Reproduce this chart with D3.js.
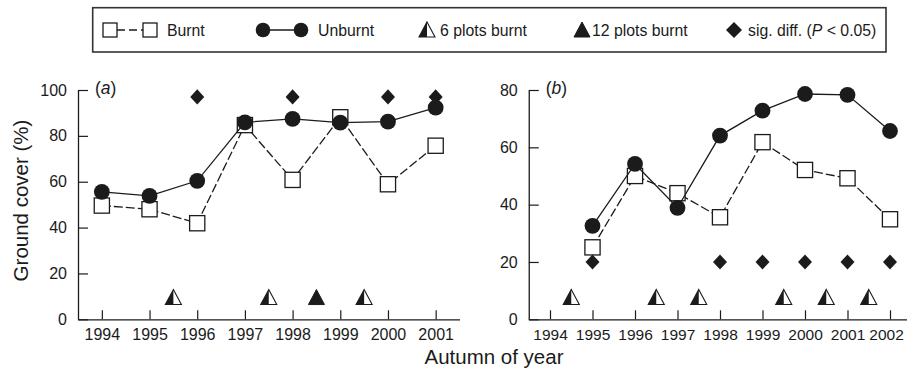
<!DOCTYPE html>
<html><head><meta charset="utf-8">
<script src="https://cdn.jsdelivr.net/npm/d3@7/dist/d3.min.js"></script>
<style>
html,body{margin:0;padding:0;background:#fff;}
svg{display:block;font-family:"Liberation Sans",Arial,Helvetica,sans-serif;}
</style></head>
<body><svg id="c" width="907" height="375"></svg>
<script>
// ---- data ----
const yearsA = [1994,1995,1996,1997,1998,1999,2000,2001];
const burntA = [49.6,48.0,41.9,84.7,60.8,88.1,58.9,75.7];
const unburntA = [55.6,53.8,60.4,85.9,87.4,85.8,86.2,92.3];
const sigYearsA = [1996,1998,2000,2001];
const sigLevelA = 97;
const burn6A = [1995.5,1997.5,1999.5];
const burn12A = [1998.5];
const triLevelA = 9.7;
const yTicksA = [0,20,40,60,80,100];
const xTicksA = [1994,1995,1996,1997,1998,1999,2000,2001];

const yearsB = [1995,1996,1997,1998,1999,2000,2001,2002];
const burntB = [25.1,50.0,44.0,35.6,61.8,52.1,49.2,34.9];
const unburntB = [32.6,54.2,38.9,64.1,72.8,78.6,78.3,65.7];
const sigYearsB = [1995,1998,1999,2000,2001,2002];
const sigLevelB = 20;
const burn6B = [1994.5,1996.5,1997.5,1999.5,2000.5,2001.5];
const burn12B = [];
const triLevelB = 7.8;
const yTicksB = [0,20,40,60,80];
const xTicksB = [1994,1995,1996,1997,1998,1999,2000,2001,2002];

const legendLabels = ["Burnt","Unburnt","6 plots burnt","12 plots burnt"];
const yTitle = "Ground cover (%)";
const xTitle = "Autumn of year";

// ---- drawing ----
const svg = d3.select("#c");
const INK = "#1b1b1b";
const SW = 1.3;

function triPath(cx, cy){
  return `M${cx},${cy-7.5}L${cx+8},${cy+7.5}L${cx-8},${cy+7.5}Z`;
}
function halfTri(g, cx, cy){
  g.append("path").attr("d", triPath(cx,cy)).attr("fill","#fff").attr("stroke",INK).attr("stroke-width",1.1).attr("stroke-linejoin","miter");
  g.append("path").attr("d", `M${cx},${cy-7.5}L${cx},${cy+7.5}L${cx-8},${cy+7.5}Z`).attr("fill",INK);
}
function fullTri(g, cx, cy){
  g.append("path").attr("d", triPath(cx,cy)).attr("fill",INK).attr("stroke",INK).attr("stroke-width",1);
}
function diamond(g, cx, cy, w, h){
  g.append("path").attr("d", `M${cx},${cy-h}L${cx+w},${cy}L${cx},${cy+h}L${cx-w},${cy}Z`).attr("fill",INK);
}

function panel(opt){
  const g = svg.append("g");
  const x = d3.scaleLinear().domain(opt.xDom).range(opt.xRange);
  const y = d3.scaleLinear().domain([0, opt.yMax]).range([319.3, 90]);

  const xa = g.append("g").attr("transform","translate(0,319.3)")
    .call(d3.axisBottom(x).tickValues(opt.xTicks).tickFormat(d3.format("d")).tickSizeInner(-9).tickSizeOuter(0).tickPadding(9.5));
  const ya = g.append("g").attr("transform",`translate(${opt.xRange[0]},0)`)
    .call(d3.axisLeft(y).tickValues(opt.yTicks).tickSizeInner(-10).tickSizeOuter(0).tickPadding(11));
  [xa, ya].forEach(a=>{
    a.selectAll("path.domain").attr("stroke",INK).attr("stroke-width",1.3);
    a.selectAll(".tick line").attr("stroke",INK).attr("stroke-width",1.2);
    a.selectAll(".tick text").attr("fill",INK).style("font-size","16px").style("font-family","'Liberation Sans',Arial,sans-serif");
  });
  if (opt.xFont) xa.selectAll(".tick text").style("font-size", opt.xFont);
  if (opt.lastShift) {
    xa.selectAll(".tick text").filter(d=>d===opt.xTicks[opt.xTicks.length-1]).attr("x", opt.lastShift);
  }

  // panel label
  const lbl = g.append("text").attr("x", opt.xRange[0]+17).attr("y", 94)
    .style("font-size","17.5px").attr("fill",INK);
  lbl.append("tspan").text("(");
  lbl.append("tspan").style("font-style","italic").text(opt.label);
  lbl.append("tspan").text(")");

  // triangles
  opt.burn6.forEach(v=>halfTri(g, x(v), y(opt.triLevel)));
  opt.burn12.forEach(v=>fullTri(g, x(v), y(opt.triLevel)));

  // burnt series
  const lineB = d3.line().x((d,i)=>x(opt.years[i])).y(d=>y(d));
  g.append("path").datum(opt.burnt).attr("d", lineB).attr("fill","none")
    .attr("stroke",INK).attr("stroke-width",SW).attr("stroke-dasharray","9,3");
  g.selectAll("rect.bsq").data(opt.burnt).enter().append("rect").attr("class","bsq")
    .attr("x",(d,i)=>x(opt.years[i])-7.6).attr("y",d=>y(d)-7.6)
    .attr("width",15.2).attr("height",15.2).attr("fill","#fff").attr("stroke",INK).attr("stroke-width",SW);

  // unburnt series
  g.append("path").datum(opt.unburnt).attr("d", lineB).attr("fill","none")
    .attr("stroke",INK).attr("stroke-width",SW);
  g.selectAll("circle.uc").data(opt.unburnt).enter().append("circle").attr("class","uc")
    .attr("cx",(d,i)=>x(opt.years[i])).attr("cy",d=>y(d)).attr("r",7.9).attr("fill",INK);

  // significance diamonds
  opt.sig.forEach(v=>diamond(g, x(v), y(opt.sigLevel), 7, 7.6));
}

panel({xDom:[1993.5,2001.5], xRange:[78,459.5], yMax:100, xTicks:xTicksA, yTicks:yTicksA,
  years:yearsA, burnt:burntA, unburnt:unburntA, sig:sigYearsA, sigLevel:sigLevelA,
  burn6:burn6A, burn12:burn12A, triLevel:triLevelA, label:"a"});
panel({xDom:[1993.5,2002.5], xRange:[528.75,911.25], yMax:80, xTicks:xTicksB, yTicks:yTicksB,
  years:yearsB, burnt:burntB, unburnt:unburntB, sig:sigYearsB, sigLevel:sigLevelB,
  burn6:burn6B, burn12:burn12B, triLevel:triLevelB, label:"b", lastShift:-4, xFont:"15.5px"});

// axis titles
svg.append("text").attr("transform","translate(28,200.5) rotate(-90)").attr("text-anchor","middle")
  .style("font-size","20.5px").attr("fill",INK).text(yTitle);
svg.append("text").attr("x",494).attr("y",364).attr("text-anchor","middle")
  .style("font-size","20.5px").attr("fill",INK).text(xTitle);

// legend
const lg = svg.append("g");
lg.append("rect").attr("x",92.7).attr("y",7.7).attr("width",793.3).attr("height",44.3)
  .attr("fill","#fff").attr("stroke","#333").attr("stroke-width",1.6);
const ly = 30;
const fs = "15.8px";
// burnt
lg.append("line").attr("x1",117).attr("x2",143).attr("y1",ly).attr("y2",ly).attr("stroke",INK).attr("stroke-width",SW).attr("stroke-dasharray","8,4");
[110,150].forEach(cx=>lg.append("rect").attr("x",cx-7).attr("y",ly-7).attr("width",14).attr("height",14).attr("fill","#fff").attr("stroke",INK).attr("stroke-width",SW));
lg.append("text").attr("x",167).attr("y",ly+5.5).style("font-size",fs).attr("fill",INK).text(legendLabels[0]);
// unburnt
lg.append("line").attr("x1",263).attr("x2",301).attr("y1",ly).attr("y2",ly).attr("stroke",INK).attr("stroke-width",SW);
[263,301].forEach(cx=>lg.append("circle").attr("cx",cx).attr("cy",ly).attr("r",7.3).attr("fill",INK));
lg.append("text").attr("x",318).attr("y",ly+5.5).style("font-size",fs).attr("fill",INK).text(legendLabels[1]);
// triangles
halfTri(lg, 427, ly-0.5);
lg.append("text").attr("x",440).attr("y",ly+5.5).style("font-size",fs).attr("fill",INK).text(legendLabels[2]);
fullTri(lg, 582, ly-0.5);
lg.append("text").attr("x",592).attr("y",ly+5.5).style("font-size",fs).attr("fill",INK).text(legendLabels[3]);
// diamond
diamond(lg, 734, ly, 8, 8);
const st = lg.append("text").attr("x",748).attr("y",ly+5.5).style("font-size",fs).attr("fill",INK);
st.append("tspan").text("sig. diff. (");
st.append("tspan").style("font-style","italic").text("P");
st.append("tspan").text(" < 0.05)");
</script></body></html>
